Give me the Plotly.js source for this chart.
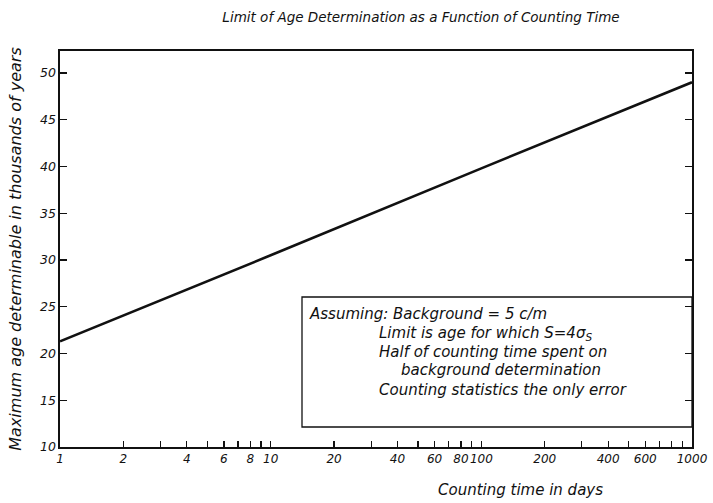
<!DOCTYPE html>
<html>
<head>
<meta charset="utf-8">
<script src="https://cdn.plot.ly/plotly-3.0.1.min.js"></script>
<style>html,body{margin:0;padding:0;background:#fff;}#chart{width:713px;height:503px;}</style>
</head>
<body>
<div id="chart"></div>
<script>
// Data
const countingDays = [1, 10, 100, 1000];
const maxAgeThousandYears = [21.3, 30.5, 39.8, 49.0];

const xTickValues = [1, 2, 3, 4, 5, 6, 7, 8, 9, 10, 20, 30, 40, 50, 60, 70, 80, 90, 100, 200, 300, 400, 500, 600, 700, 800, 900, 1000];
const xTickLabels = ['1', '2', '', '4', '', '6', '', '8', '', '10', '20', '', '40', '', '60', '', '80', '', '100', '200', '', '400', '', '600', '', '', '', '1000'];
const yTickValues = [10, 15, 20, 25, 30, 35, 40, 45, 50];

const titleText = 'Limit of Age Determination as a Function of Counting Time';
const xTitleText = 'Counting time in days';
const yTitleText = 'Maximum age determinable in thousands of years';
const noteLines = [
  'Assuming: Background = 5 c/m',
  'Limit is age for which S=4σ<sub>S</sub>',
  'Half of counting time spent on',
  'background determination',
  'Counting statistics the only error'
];

const FONT = 'DejaVu Sans';
const ink = '#111';

// pixel helpers for the annotation placement (plot area: x 60..692, y 51..447)
const L = 60, R = 692, T = 51, B = 447;
const px = v => (v - L) / (R - L);
const py = v => (B - v) / (B - T);

const noteX = [307, 377, 377, 399, 377];
const noteY = [314, 333, 352, 370, 390];

const annotations = noteLines.map((t, i) => ({
  text: t, xref: 'paper', yref: 'paper', x: px(noteX[i]), y: py(noteY[i]),
  xanchor: 'left', yanchor: 'middle', showarrow: false,
  font: {family: FONT, size: 15, color: ink, style: 'italic'}
}));
annotations.push({
  text: xTitleText, xref: 'paper', yref: 'paper', x: px(520), y: py(490),
  xanchor: 'center', yanchor: 'middle', showarrow: false,
  font: {family: FONT, size: 15, color: ink, style: 'italic'}
});

const trace = {
  x: countingDays, y: maxAgeThousandYears, type: 'scatter', mode: 'lines',
  line: {color: ink, width: 2.6}, hoverinfo: 'skip', showlegend: false
};

const layout = {
  width: 713, height: 503,
  margin: {l: L, r: 713 - R, t: T, b: 503 - B},
  paper_bgcolor: '#fff', plot_bgcolor: '#fff',
  title: {text: titleText, xref: 'container', yref: 'container', x: 421 / 713, y: 1 - 17 / 503,
    xanchor: 'center', yanchor: 'middle', font: {family: FONT, size: 13.5, color: ink, style: 'italic'}},
  xaxis: {
    type: 'log', range: [0, 3], tickmode: 'array', tickvals: xTickValues, ticktext: xTickLabels,
    tickangle: 0, automargin: false,
    ticks: 'inside', ticklen: 6, tickwidth: 1.3, tickcolor: ink,
    showline: true, linecolor: ink, linewidth: 1.6, mirror: true, showgrid: false, zeroline: false,
    tickfont: {family: FONT, size: 12, color: ink, style: 'italic'}
  },
  yaxis: {
    range: [10, 52.35], tickmode: 'array', tickvals: yTickValues, automargin: false,
    ticks: 'inside', ticklen: 7, tickwidth: 1.3, tickcolor: ink,
    showline: true, linecolor: ink, linewidth: 1.6, mirror: 'ticks', showgrid: false, zeroline: false,
    tickfont: {family: FONT, size: 12.5, color: ink, style: 'italic'},
    title: {text: yTitleText, standoff: 14, font: {family: FONT, size: 16, color: ink, style: 'italic'}}
  },
  shapes: [{
    type: 'rect', xref: 'paper', yref: 'paper', x0: px(302), x1: 1, y0: py(427), y1: py(297),
    line: {color: ink, width: 1.3}, fillcolor: 'rgba(0,0,0,0)'
  }],
  annotations: annotations
};

Plotly.newPlot('chart', [trace], layout, {displayModeBar: false, staticPlot: true});
</script>
</body>
</html>
